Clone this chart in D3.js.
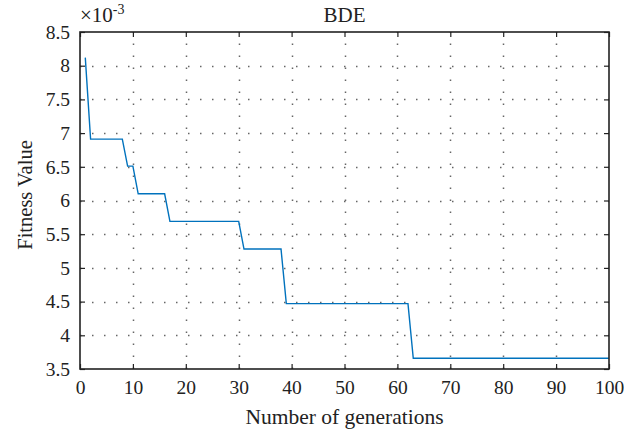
<!DOCTYPE html>
<html>
<head>
<meta charset="utf-8">
<script src="https://cdn.jsdelivr.net/npm/d3@7"></script>
<style>
  html, body { margin: 0; padding: 0; background: #fff; }
  svg { display: block; }
</style>
</head>
<body>
<svg id="chart" width="624" height="434"></svg>
<script>
// ---- data (fitness values ×10^-3 per generation) ----
const generations = d3.range(1, 101);
const fitness = [
  8.12, 6.91, 6.91, 6.91, 6.91, 6.91, 6.91, 6.91, 6.51, 6.51,
  6.10, 6.10, 6.10, 6.10, 6.10, 6.10, 5.69, 5.69, 5.69, 5.69,
  5.69, 5.69, 5.69, 5.69, 5.69, 5.69, 5.69, 5.69, 5.69, 5.69,
  5.28, 5.28, 5.28, 5.28, 5.28, 5.28, 5.28, 5.28, 4.47, 4.47,
  4.47, 4.47, 4.47, 4.47, 4.47, 4.47, 4.47, 4.47, 4.47, 4.47,
  4.47, 4.47, 4.47, 4.47, 4.47, 4.47, 4.47, 4.47, 4.47, 4.47,
  4.47, 4.47, 3.66, 3.66, 3.66, 3.66, 3.66, 3.66, 3.66, 3.66,
  3.66, 3.66, 3.66, 3.66, 3.66, 3.66, 3.66, 3.66, 3.66, 3.66,
  3.66, 3.66, 3.66, 3.66, 3.66, 3.66, 3.66, 3.66, 3.66, 3.66,
  3.66, 3.66, 3.66, 3.66, 3.66, 3.66, 3.66, 3.66, 3.66, 3.66
];
const xTicks = [0, 10, 20, 30, 40, 50, 60, 70, 80, 90, 100];
const yTicks = [3.5, 4, 4.5, 5, 5.5, 6, 6.5, 7, 7.5, 8, 8.5];
const title = "BDE";
const xLabel = "Number of generations";
const yLabel = "Fitness Value";

// ---- layout ----
const pL = 80, pR = 609, pT = 32, pB = 369;
const svg = d3.select("#chart");
const x = d3.scaleLinear().domain([0, 100]).range([pL, pR]);
const y = d3.scaleLinear().domain([3.5, 8.5]).range([pB, pT]);
const FONT = "'Liberation Serif', 'Times New Roman', serif";
const INK = "#222";

// grid (dotted, period 12px)
const grid = svg.append("g").attr("stroke", "#666").attr("stroke-width", 1.5)
  .attr("stroke-dasharray", "1.5,10.5");
grid.selectAll("line.gx").data(xTicks.slice(1, -1)).join("line")
  .attr("x1", d => Math.round(x(d)) + 0.5).attr("x2", d => Math.round(x(d)) + 0.5)
  .attr("y1", pB).attr("y2", pT);
grid.selectAll("line.gy").data(yTicks.slice(1, -1)).join("line")
  .attr("y1", d => Math.round(y(d)) + 0.5).attr("y2", d => Math.round(y(d)) + 0.5)
  .attr("x1", pL).attr("x2", pR);

// line
const line = d3.line().x((d, i) => x(generations[i])).y(d => y(d));
svg.append("path").datum(fitness).attr("d", line)
  .attr("fill", "none").attr("stroke", "#0072BD").attr("stroke-width", 1.4);

// axes
const fs = 19.5;
const xAxis = d3.axisBottom(x).tickValues(xTicks).tickSizeInner(-5).tickSizeOuter(0).tickPadding(11);
svg.append("g").attr("transform", `translate(0,${pB})`).call(xAxis);
const yAxis = d3.axisLeft(y).tickValues(yTicks).tickFormat(d3.format("")).tickSizeInner(-5).tickSizeOuter(0).tickPadding(10);
svg.append("g").attr("transform", `translate(${pL},0)`).call(yAxis);
const xTop = d3.axisTop(x).tickValues(xTicks).tickSizeInner(-5).tickSizeOuter(0).tickFormat("");
svg.append("g").attr("transform", `translate(0,${pT})`).call(xTop);
const yRight = d3.axisRight(y).tickValues(yTicks).tickSizeInner(-5).tickSizeOuter(0).tickFormat("");
svg.append("g").attr("transform", `translate(${pR},0)`).call(yRight);

svg.selectAll(".domain").remove();
svg.selectAll(".tick line").attr("stroke", INK).attr("stroke-width", 1.2);
svg.selectAll(".tick text")
  .style("font-family", FONT).style("font-size", fs + "px").style("fill", INK);

// box
svg.append("rect").attr("x", pL).attr("y", pT).attr("width", pR - pL).attr("height", pB - pT)
  .attr("fill", "none").attr("stroke", INK).attr("stroke-width", 1.6);

function label(sel, size) {
  return sel.style("font-family", FONT).style("font-size", size + "px").style("fill", INK);
}

// exponent
const ex = label(svg.append("text").attr("x", pL).attr("y", 22), 21);
ex.append("tspan").text("×10");
ex.append("tspan").attr("dy", -8).style("font-size", "14px").text("-3");

// title
label(svg.append("text").attr("x", (pL + pR) / 2).attr("y", 22).attr("text-anchor", "middle"), 21)
  .text(title);

// axis labels
label(svg.append("text").attr("x", (pL + pR) / 2).attr("y", 424).attr("text-anchor", "middle"), 21.5)
  .text(xLabel);
label(svg.append("text").attr("transform", `translate(32,195) rotate(-90)`)
  .attr("text-anchor", "middle"), 20.5).text(yLabel);
</script>
</body>
</html>
